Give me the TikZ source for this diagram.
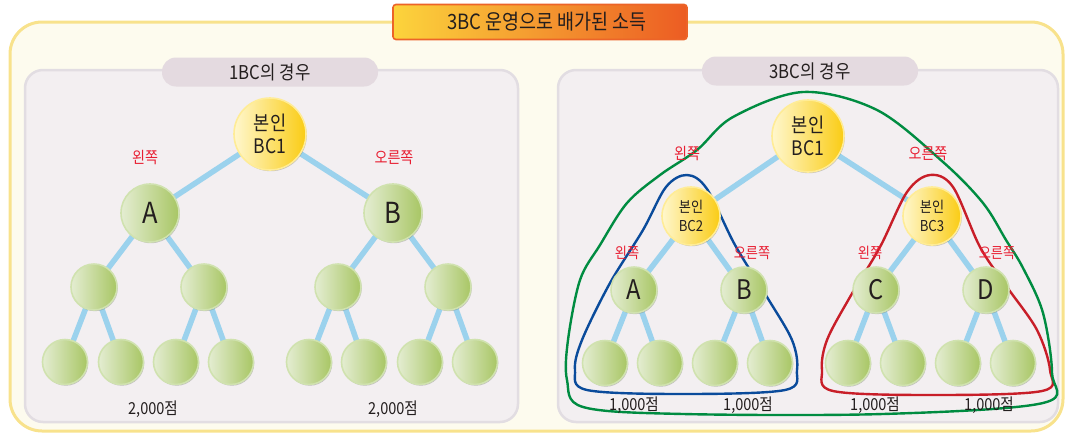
\documentclass[tikz,border=0pt]{standalone}
\usepackage{fontspec}
\setmainfont[FakeStretch=0.88]{Noto Sans CJK KR}
\usetikzlibrary{shadows}
\pgfdeclarelayer{bg}
\pgfdeclarelayer{edges}
\pgfsetlayers{bg,edges,main}
\definecolor{cream}{RGB}{253,251,238}
\definecolor{outerb}{RGB}{248,226,140}
\definecolor{panelc}{RGB}{243,239,241}
\definecolor{panelb}{RGB}{226,221,226}
\definecolor{pillc}{RGB}{228,218,224}
\definecolor{edgec}{RGB}{155,210,237}
\definecolor{gl}{RGB}{228,237,210}
\definecolor{gr}{RGB}{168,198,100}
\definecolor{gb}{RGB}{208,226,175}
\definecolor{yl}{RGB}{255,247,205}
\definecolor{yr}{RGB}{250,204,20}
\definecolor{yb}{RGB}{255,236,150}
\definecolor{redt}{RGB}{232,30,50}
\definecolor{loopg}{RGB}{0,140,65}
\definecolor{loopb}{RGB}{10,75,155}
\definecolor{loopr}{RGB}{200,30,40}
\definecolor{tl}{RGB}{252,212,60}
\definecolor{tr}{RGB}{236,92,35}
\definecolor{tb}{RGB}{236,100,40}
\definecolor{txt}{RGB}{35,30,30}
\tikzset{
  fs/.style={font=\fontsize{#1}{#1}\selectfont},
  circ/.style={circle, inner sep=0pt, line width=1.6pt, align=center, text=txt,
    drop shadow={shadow xshift=0.8pt, shadow yshift=-1.2pt, fill=black!60, opacity=0.35}},
  gnode/.style={circ, left color=gl, right color=gr, draw=gb, minimum size=#1},
  ynode/.style={circ, left color=yl, right color=yr, draw=yb, minimum size=#1},
  leaf/.style={gnode=45pt},
  mid/.style={gnode=46pt},
  tedge/.style={edgec, line width=5.5pt},
  side/.style={text=redt, font=\fontsize{16}{18}\selectfont, inner sep=1pt},
  sside/.style={text=redt, font=\fontsize{15}{17}\selectfont, inner sep=1pt},
  score/.style={text=txt, font=\fontsize{16.5}{18}\selectfont, inner sep=1pt},
  pillbox/.style={fill=pillc, rounded corners=14pt, minimum width=216pt, minimum height=29pt,
    text=txt, font=\fontsize{19}{21}\selectfont, inner sep=0pt},
  loop/.style={line width=2.4pt, line join=round},
}
\begin{document}
\begin{tikzpicture}[x=1pt,y=-1pt]
\useasboundingbox (0,0) rectangle (1066,434);
\begin{pgfonlayer}{bg}
  \draw[outerb, line width=3pt, fill=cream, rounded corners=32pt] (10,22) rectangle (1063,431);
  \draw[panelb, line width=2.5pt, fill=panelc, rounded corners=18pt] (25,70) rectangle (518,422);
  \draw[panelb, line width=2.5pt, fill=panelc, rounded corners=18pt] (558,70) rectangle (1058,422);
\end{pgfonlayer}
% title
\node[left color=tl, right color=tr, draw=tb, line width=1.6pt, rounded corners=3pt,
  minimum width=294pt, minimum height=35pt, text=txt, font=\fontsize{21}{23}\selectfont]
  (title) at (540,22) {\hspace*{14pt}3BC 운영으로 배가된 소득};
\node[pillbox] (p1) at (270,72) {1BC의 경우};
\node[pillbox] (p2) at (810,71) {3BC의 경우};

% loops
\draw[loop, loopb] plot[smooth cycle, tension=0.55] coordinates {(687,175) (707,189) (735,245) (767,297) (792,340) (797,370) (785,390) (683,394) (587,390) (575,370) (582,340) (610,283) (643,230) (666,187)};
\draw[loop, loopr] plot[smooth cycle, tension=0.55] coordinates {(930,175) (953,187) (980,247) (1007,287) (1037,330) (1050,370) (1042,391) (933,395) (833,391) (822,370) (827,340) (850,297) (880,247) (907,192)};
\draw[loop, loopg] plot[smooth cycle, tension=0.55] coordinates {(803,92) (877,110) (943,162) (983,203) (1006,240) (1023,268) (1043,313) (1052,373) (1043,403) (883,414) (683,414) (583,407) (567,380) (568,340) (580,280) (600,245) (627,203) (660,175) (697,150) (733,117)};

% left tree
\node[ynode=72pt, fs=20] (L0) at (270,134) {본인\\[3pt]BC1};
\node[gnode=58pt, fs=29] (LA) at (150,213) {A};
\node[gnode=58pt, fs=29] (LB) at (393,213) {B};
\node[mid] (L1) at (94,287) {};
\node[mid] (L2) at (204,287) {};
\node[mid] (L3) at (338,287) {};
\node[mid] (L4) at (448,287) {};
\node[leaf] (L11) at (65,362) {};
\node[leaf] (L12) at (121,362) {};
\node[leaf] (L21) at (176,362) {};
\node[leaf] (L22) at (231,362) {};
\node[leaf] (L31) at (309,362) {};
\node[leaf] (L32) at (364,362) {};
\node[leaf] (L41) at (420,362) {};
\node[leaf] (L42) at (475,362) {};
\node[side] (lw) at (145,158) {왼쪽};
\node[side] (lo) at (394,158) {오른쪽};
\node[score] (ls1) at (153,409) {2,000점};
\node[score] (ls2) at (393,409) {2,000점};

% right tree
\node[ynode=72pt, fs=20] (R0) at (808,136) {본인\\[3pt]BC1};
\node[ynode=58pt, fs=15] (R2) at (691,216) {본인\\[4pt]BC2};
\node[ynode=58pt, fs=15] (R3) at (932,216) {본인\\[4pt]BC3};
\node[mid, fs=27] (RA) at (634,290) {A};
\node[mid, fs=27] (RB) at (744,290) {B};
\node[mid, fs=27] (RC) at (876,290) {C};
\node[mid, fs=27] (RD) at (986,290) {D};
\node[leaf] (RA1) at (605,363) {};
\node[leaf] (RA2) at (660,363) {};
\node[leaf] (RB1) at (715,363) {};
\node[leaf] (RB2) at (770,363) {};
\node[leaf] (RC1) at (848,363) {};
\node[leaf] (RC2) at (903,363) {};
\node[leaf] (RD1) at (958,363) {};
\node[leaf] (RD2) at (1013,363) {};
\node[side] (rw) at (687,154) {왼쪽};
\node[side] (ro) at (928,154) {오른쪽};
\node[sside] (rw2) at (627,253) {왼쪽};
\node[sside] (ro2) at (752,253) {오른쪽};
\node[sside] (rw3) at (870,253) {왼쪽};
\node[sside] (ro3) at (997,253) {오른쪽};
\node[score] (rs1) at (634,405) {1,000점};
\node[score] (rs2) at (748,405) {1,000점};
\node[score] (rs3) at (875,405) {1,000점};
\node[score] (rs4) at (989,405) {1,000점};

\begin{pgfonlayer}{edges}
  \foreach \a/\b in {L0/LA, L0/LB, LA/L1, LA/L2, LB/L3, LB/L4,
     L1/L11, L1/L12, L2/L21, L2/L22, L3/L31, L3/L32, L4/L41, L4/L42,
     R0/R2, R0/R3, R2/RA, R2/RB, R3/RC, R3/RD,
     RA/RA1, RA/RA2, RB/RB1, RB/RB2, RC/RC1, RC/RC2, RD/RD1, RD/RD2}
    \draw[tedge] (\a.center) -- (\b.center);
\end{pgfonlayer}
\end{tikzpicture}
\end{document}
